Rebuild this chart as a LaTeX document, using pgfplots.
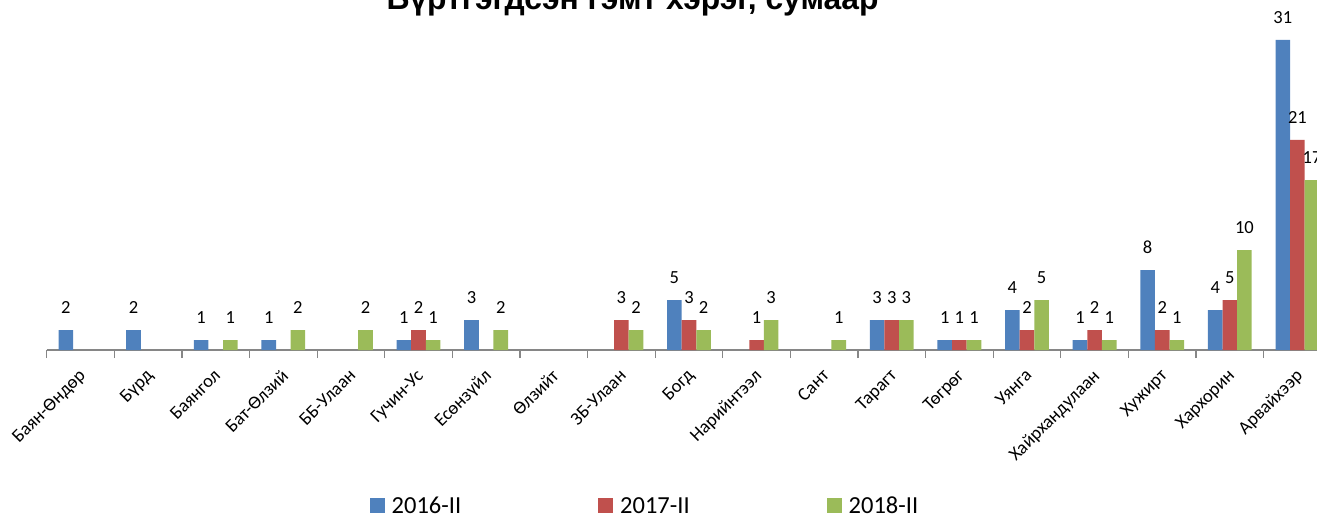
\documentclass[border=0pt]{standalone}
\usepackage{fontspec}
\setmainfont{Carlito}
\newfontfamily\titlefont{Liberation Sans}
\usepackage{pgfplots}
\pgfplotsset{compat=1.18}
\definecolor{cA}{HTML}{4F81BD}
\definecolor{cB}{HTML}{C0504D}
\definecolor{cC}{HTML}{9BBB59}
\definecolor{axgray}{HTML}{868686}
\begin{document}
\begin{tikzpicture}[x=1pt,y=1pt]
\begin{axis}[
  at={(46.7pt,167pt)}, anchor=south west,
  scale only axis, width=1270.3pt, height=350pt,
  xmin=-0.5, xmax=18.29, ymin=0, ymax=35,
  ybar=0pt, bar width=14.6pt,
  /pgf/number format/assume math mode=true,
  axis x line*=bottom, axis y line=none,
  x axis line style={-, axgray, line width=1.5pt},
  ytick=\empty,
  xtick={0,...,18},
  xticklabels={Баян-Өндөр,Бүрд,Баянгол,Бат-Өлзий,ББ-Улаан,Гучин-Ус,Есөнзүйл,Өлзийт,ЗБ-Улаан,Богд,Нарийнтээл,Сант,Тарагт,Төгрөг,Уянга,Хайрхандулаан,Хужирт,Хархорин,Арвайхээр},
  major tick length=0pt,
  minor xtick={-0.5,0.5,...,17.5},
  minor tick length=8pt, tick align=outside,
  minor tick style={axgray, line width=1.2pt},
  xticklabel style={font=\fontsize{18.5}{18.5}\selectfont, xshift=-2.8pt, yshift=-18pt, rotate=45, anchor=north east, inner sep=0pt},
  nodes near coords,
  every node near coord/.append style={font=\fontsize{18.5}{18.5}\selectfont, inner sep=0pt, yshift=16pt, black},
  legend columns=3,
  legend style={at={(0.2541,-0.4443)}, anchor=west, draw=none, fill=none, inner sep=0pt,
    font=\fontsize{24.5}{24.5}\selectfont, nodes={inner sep=0pt}, cells={anchor=base west},
    /tikz/every odd column/.append style={column sep=7pt},
    /tikz/every even column/.append style={column sep=137pt}},
  legend image code/.code={\path[#1, draw=none] (0pt,0pt) rectangle (15pt,15pt);},
]
\addplot[fill=cA, draw=none] coordinates {(0,2) (1,2) (2,1) (3,1) (5,1) (6,3) (9,5) (12,3) (13,1) (14,4) (15,1) (16,8) (17,4) (18,31)};
\addplot[fill=cB, draw=none] coordinates {(5,2) (8,3) (9,3) (10,1) (12,3) (13,1) (14,2) (15,2) (16,2) (17,5) (18,21)};
\addplot[fill=cC, draw=none] coordinates {(2,1) (3,2) (4,2) (5,1) (6,2) (8,2) (9,2) (10,3) (11,1) (12,3) (13,1) (14,5) (15,1) (16,1) (17,10) (18,17)};
\legend{2016-II,2017-II,2018-II}
\end{axis}
\node[font=\titlefont\bfseries\fontsize{31.8}{31.8}\selectfont, anchor=base] at (632.5pt,507pt) {Бүртгэгдсэн гэмт хэрэг, сумаар};
\pgfresetboundingbox
\path[use as bounding box] (0,0) rectangle (1317pt,517pt);
\end{tikzpicture}
\end{document}
